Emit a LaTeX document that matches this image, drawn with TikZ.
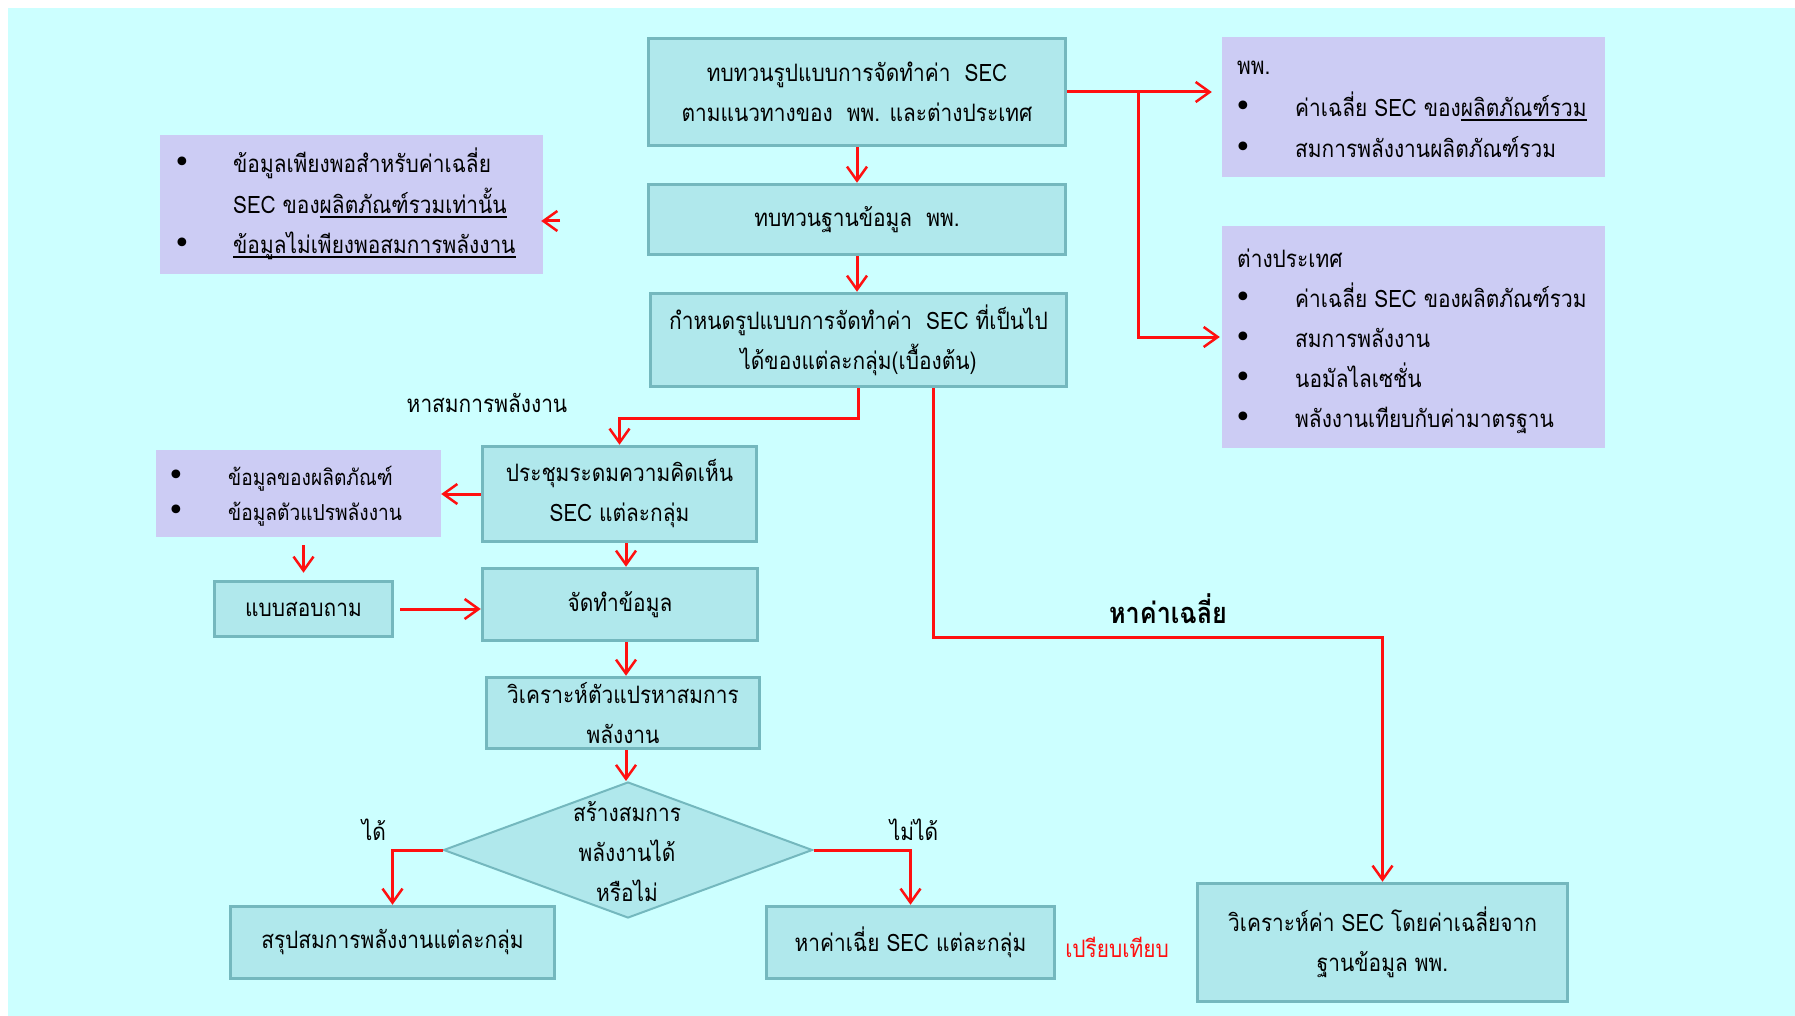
\documentclass[tikz,border=0pt]{standalone}
\usepackage{fontspec}
\setmainfont[Script=Thai, FakeStretch=0.87]{Loma}
\newfontfamily\symfont{DejaVu Sans}
\usetikzlibrary{arrows.meta,shapes.geometric}

\definecolor{bgcyan}{HTML}{CCFFFF}
\definecolor{boxfill}{HTML}{B0E8EC}
\definecolor{boxline}{HTML}{74B8BE}
\definecolor{notefill}{HTML}{CCCCF4}
\definecolor{flowred}{HTML}{FF1010}

% underline drawn at a fixed depth below the baseline
\newcommand\thul[1]{\setbox0\hbox{#1}\rlap{\rule[-4pt]{\wd0}{1.8pt}}\box0}
\newcommand\bul{{\symfont\fontsize{30}{30}\selectfont •}}

\tikzset{
  stepbox/.style={draw=boxline, line width=3.5pt, fill=boxfill, inner sep=0pt,
    align=center, font=\fontsize{24}{40}\selectfont},
  notebox/.style={fill=notefill, inner sep=0pt},
  txt/.style={font=\fontsize{24}{40}\selectfont, inner sep=0pt, anchor=base west},
  smalltxt/.style={txt, font=\fontsize{22}{40}\selectfont},
  bullet/.style={inner sep=0pt, anchor=base},
  lbl/.style={font=\fontsize{24}{40}\selectfont, inner sep=0pt, anchor=base},
  decision/.style={shape=diamond, draw=boxline, line width=2pt, fill=boxfill, inner sep=0pt},
  flow/.style={draw=flowred, line width=3pt,
    -{Straight Barb[length=14pt,width=20pt,line width=2.5pt]}},
}

\begin{document}
\begin{tikzpicture}[x=1pt,y=-1pt]
\useasboundingbox (0,0) rectangle (1795,1016);
\fill[bgcyan] (8,8) rectangle (1795,1016);

% main column
\node[stepbox, minimum width=417pt, minimum height=107pt] (b1) at (857,92)
  {ทบทวนรูปแบบการจัดทำค่า\ \ SEC\\ตามแนวทางของ\ \ พพ. และต่างประเทศ};
\node[stepbox, minimum width=417pt, minimum height=70pt] (b2) at (857,219.5)
  {ทบทวนฐานข้อมูล\ \ พพ.};
\node[stepbox, minimum width=416pt, minimum height=93pt] (b3) at (858.5,340)
  {กำหนดรูปแบบการจัดทำค่า\ \ SEC ที่เป็นไป\\ได้ของแต่ละกลุ่ม(เบื้องต้น)};

% note on the left
\node[notebox, minimum width=383pt, minimum height=139pt] (n1) at (351.5,204.5) {};
\node[bullet] (n1p) at (182,173) {\bul};
\node[txt] (n1a) at (233,173) {ข้อมูลเพียงพอสำหรับค่าเฉลี่ย};
\node[txt] (n1b) at (233,214) {SEC ของ\thul{ผลิตภัณฑ์รวมเท่านั้น}};
\node[bullet] (n1q) at (182,254) {\bul};
\node[txt] (n1c) at (233,254) {\thul{ข้อมูลไม่เพียงพอสมการพลังงาน}};

% notes on the right
\node[notebox, minimum width=383pt, minimum height=140pt] (r1) at (1413.5,107) {};
\node[txt] (r1t) at (1237,75) {พพ.};
\node[bullet] (r1p) at (1243,117) {\bul};
\node[txt] (r1a) at (1295,117) {ค่าเฉลี่ย SEC ของ\thul{ผลิตภัณฑ์รวม}};
\node[bullet] (r1q) at (1243,158) {\bul};
\node[txt] (r1b) at (1295,158) {สมการพลังงานผลิตภัณฑ์รวม};

\node[notebox, minimum width=383pt, minimum height=222pt] (r2) at (1413.5,337) {};
\node[txt] (r2t) at (1237,267) {ต่างประเทศ};
\node[bullet] (r2p) at (1243,307) {\bul};
\node[txt] (r2a) at (1295,307) {ค่าเฉลี่ย SEC ของผลิตภัณฑ์รวม};
\node[bullet] (r2q) at (1243,347) {\bul};
\node[txt] (r2b) at (1295,347) {สมการพลังงาน};
\node[bullet] (r2r) at (1243,387) {\bul};
\node[txt] (r2c) at (1295,387) {นอมัลไลเซชั่น};
\node[bullet] (r2s) at (1243,427) {\bul};
\node[txt] (r2d) at (1295,427) {พลังงานเทียบกับค่ามาตรฐาน};

% energy-equation branch
\node[stepbox, minimum width=274pt, minimum height=95pt] (meet) at (619.5,494)
  {ประชุมระดมความคิดเห็น\\SEC แต่ละกลุ่ม};
\node[notebox, minimum width=285pt, minimum height=87pt] (n2) at (298.5,493.5) {};
\node[bullet] (n2p) at (176,485) {\bul};
\node[smalltxt] (n2a) at (228,485) {ข้อมูลของผลิตภัณฑ์};
\node[bullet] (n2q) at (176,520) {\bul};
\node[smalltxt] (n2b) at (228,520) {ข้อมูลตัวแปรพลังงาน};
\node[stepbox, minimum width=178pt, minimum height=55pt] (quest) at (303.5,609)
  {แบบสอบถาม};
\node[stepbox, minimum width=275pt, minimum height=72pt] (prep) at (620,604.5)
  {จัดทำข้อมูล};
\node[stepbox, minimum width=273pt, minimum height=71pt] (anal) at (623,713)
  {วิเคราะห์ตัวแปรหาสมการ\\พลังงาน};
\node[decision, minimum width=369pt, minimum height=136pt] (dec) at (628,850) {};
\node[align=center, inner sep=0pt, font=\fontsize{24}{40}\selectfont] (dect) at (627,852)
  {สร้างสมการ\\พลังงานได้\\หรือไม่};
\node[stepbox, minimum width=324pt, minimum height=72pt] (sum) at (392.5,942.5)
  {สรุปสมการพลังงานแต่ละกลุ่ม};
\node[stepbox, minimum width=288pt, minimum height=72pt] (avg) at (910.5,942.5)
  {หาค่าเฉี่ย SEC แต่ละกลุ่ม};
\node[stepbox, minimum width=370pt, minimum height=118pt] (big) at (1382.5,942.5)
  {วิเคราะห์ค่า SEC โดยค่าเฉลี่ยจาก\\ฐานข้อมูล พพ.};

% labels
\node[lbl] (lEq) at (487,412) {หาสมการพลังงาน};
\node[lbl, font=\fontsize{29}{40}\selectfont\bfseries] (lAvg) at (1168,623) {หาค่าเฉลี่ย};
\node[lbl] (lYes) at (374,840) {ได้};
\node[lbl] (lNo) at (914,840) {ไม่ได้};
\node[lbl, text=flowred] (lCmp) at (1117,957) {เปรียบเทียบ};

% connectors
\coordinate (ax) at (626,0);
\coordinate (jn) at (1138,92);
\coordinate (stub) at (560,221);
\draw[flow] (b1.south) -- (b2.north);
\draw[flow] (b2.south) -- (b2.south |- b3.north);
\draw[flow, shorten >=10pt] (b1.east) -- (r1.west |- b1.east);
\draw[flow, shorten >=2pt] (jn) |- (r2.west);
\draw[flow, shorten >=-2pt] (stub) -- (n1.east |- stub);
\draw[flow] (b3.south) -- ++(0,30) -| (meet.north);
\draw[flow] ([xshift=75pt]b3.south) -- ++(0,249) -| (big.north);
\draw[flow] (meet.west) -- (n2.east |- meet.west);
\draw[flow, shorten <=8pt, shorten >=7pt] (n2.south -| quest.north) -- (quest.north);
\draw[flow, shorten <=6pt] (quest.east) -- (prep.west |- quest.east);
\draw[flow] (meet.south -| ax) -- (prep.north -| ax);
\draw[flow] (prep.south -| ax) -- (anal.north -| ax);
\draw[flow] (anal.south -| ax) -- (dec.north -| ax);
\draw[flow] (dec.west) -| (sum.north);
\draw[flow] (dec.east) -| (avg.north);
\end{tikzpicture}
\end{document}
